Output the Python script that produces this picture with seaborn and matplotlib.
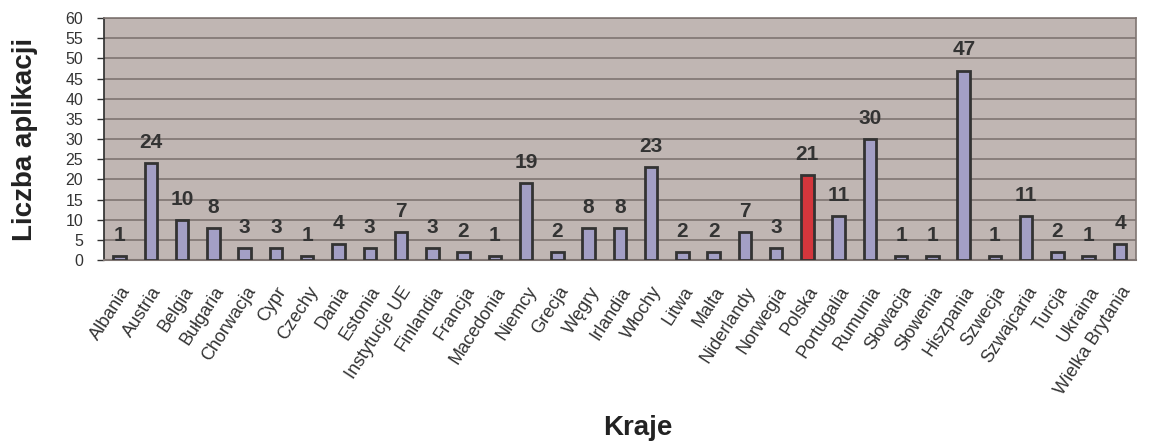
import matplotlib
matplotlib.use("Agg")
import matplotlib.pyplot as plt
import seaborn as sns
import pandas as pd

countries = ["Albania", "Austria", "Belgia", "Bułgaria", "Chorwacja", "Cypr", "Czechy", "Dania",
             "Estonia", "Instytucje UE", "Finlandia", "Francja", "Macedonia", "Niemcy", "Grecja",
             "Węgry", "Irlandia", "Włochy", "Litwa", "Malta", "Niderlandy", "Norwegia", "Polska",
             "Portugalia", "Rumunia", "Słowacja", "Słowenia", "Hiszpania", "Szwecja", "Szwajcaria",
             "Turcja", "Ukraina", "Wielka Brytania"]
values = [1, 24, 10, 8, 3, 3, 1, 4, 3, 7, 3, 2, 1, 19, 2, 8, 8, 23, 2, 2, 7, 3, 21, 11, 30, 1, 1,
          47, 1, 11, 2, 1, 4]
highlight = "Polska"

sns.set_theme(style="white")
plt.rcParams['font.family'] = ['Liberation Sans', 'DejaVu Sans']

df = pd.DataFrame({"kraj": countries, "n": values})
palette = {c: ("#EE1C24" if c == highlight else "#9E98CC") for c in countries}

fig = plt.figure(figsize=(11.6, 4.43), dpi=100)
ax = fig.add_axes([0.0897, 0.413, 0.8893, 0.546])
ax.set_facecolor("#C0B6B3")

sns.barplot(data=df, x="kraj", y="n", hue="kraj", palette=palette, legend=False,
            width=0.4, edgecolor="#333333", linewidth=2, ax=ax, zorder=3)

ax.set_ylim(0, 60)
ax.set_yticks(range(0, 61, 5))
ax.yaxis.grid(True, color="#7F7572", linewidth=1.2, zorder=0)
ax.set_axisbelow(True)
ax.set_xlim(-0.5, len(countries) - 0.5)

for i, v in enumerate(values):
    ax.annotate(str(v), (i, v), xytext=(0, 8), textcoords="offset points",
                ha="center", va="bottom", fontsize=15, fontweight="bold", color="#333333")

ax.tick_params(axis="y", labelsize=11.5, colors="#333333", length=5, left=True, width=1, pad=10)
ax.tick_params(axis="x", labelsize=13, colors="#333333", length=0, pad=17)
plt.setp(ax.get_xticklabels(), rotation=57, ha="right", rotation_mode="anchor")

for s in ["top", "right"]:
    ax.spines[s].set_color("#7F7572")
    ax.spines[s].set_linewidth(1.2)
ax.spines["left"].set_color("#333333")
ax.spines["bottom"].set_color("#7F7572")
ax.spines["bottom"].set_linewidth(1.5)

ax.set_ylabel("Liczba aplikacji", fontsize=20, fontweight="bold", color="#222222", labelpad=20)
ax.set_xlabel("")
fig.text(0.55, 0.034, "Kraje", ha="center", va="center", fontsize=20, fontweight="bold",
         color="#222222")

fig.savefig("out.png", dpi=100)
